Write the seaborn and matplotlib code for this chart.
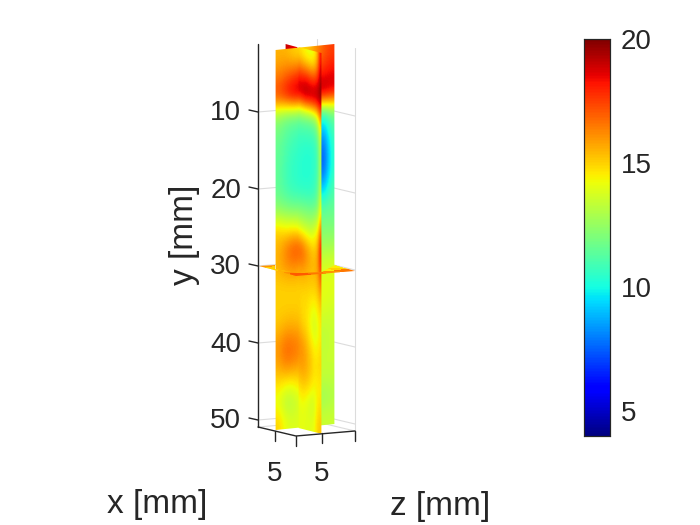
import matplotlib
matplotlib.use("Agg")
import matplotlib.pyplot as plt
import numpy as np
import seaborn as sns
from matplotlib.patches import Polygon
from matplotlib.transforms import Affine2D

# slices through the volume, left to right / top to bottom
plane_a = [
    [15.5, 15.5, 15.0, 14.8, 15.0, 16.0, 17.0, 17.5],
    [16.5, 17.0, 17.5, 18.0, 18.0, 18.0, 18.0, 18.5],
    [17.5, 18.5, 19.3, 19.5, 19.5, 19.8, 19.8, 19.0],
    [12.5, 12.0, 12.0, 12.0, 11.5, 11.0, 11.0, 12.0],
    [11.8, 11.3, 11.0, 10.8, 10.0, 9.5, 8.5, 11.0],
    [11.5, 11.0, 10.6, 10.5, 9.5, 8.5, 7.0, 10.5],
    [11.5, 10.8, 10.5, 10.4, 9.5, 8.5, 7.0, 10.5],
    [11.5, 11.0, 10.6, 10.5, 10.0, 9.5, 8.8, 11.0],
    [12.5, 12.2, 12.0, 12.0, 11.5, 11.3, 11.3, 11.5],
    [15.0, 14.5, 14.5, 14.0, 13.0, 12.0, 12.0, 12.0],
    [15.5, 16.5, 17.3, 17.3, 15.0, 12.7, 12.7, 12.7],
    [15.5, 16.0, 16.2, 16.0, 15.0, 13.7, 13.7, 13.8],
    [15.0, 15.0, 15.0, 15.0, 14.5, 14.0, 14.0, 14.0],
    [15.0, 15.0, 15.0, 15.0, 14.5, 14.0, 14.0, 13.8],
    [15.2, 15.5, 15.5, 15.3, 14.5, 13.5, 13.5, 13.5],
    [16.0, 16.8, 16.6, 16.3, 15.0, 13.2, 13.2, 13.5],
    [15.8, 16.6, 16.3, 16.0, 15.0, 13.5, 13.5, 13.5],
    [14.8, 14.5, 14.5, 15.0, 14.0, 13.3, 13.3, 13.3],
    [14.0, 13.0, 13.2, 14.0, 13.5, 12.6, 12.6, 13.0],
    [15.0, 14.0, 13.8, 14.0, 14.0, 13.5, 13.5, 13.5],
]
plane_b_front = [
    [14.8, 14.5, 14.2, 14.0, 14.0, 14.3, 15.5, 18.5],
    [18.0, 18.0, 18.0, 17.8, 17.5, 17.5, 18.0, 19.5],
    [19.5, 19.7, 20.0, 20.0, 20.0, 20.0, 20.0, 20.0],
    [12.0, 12.0, 12.0, 12.0, 12.2, 12.5, 13.5, 16.0],
    [10.8, 10.8, 10.8, 10.8, 10.8, 11.0, 11.5, 13.5],
    [10.5, 10.4, 10.3, 10.3, 10.3, 10.5, 11.0, 13.0],
    [10.4, 10.3, 10.3, 10.3, 10.4, 10.6, 11.0, 13.0],
    [10.5, 10.5, 10.5, 10.5, 10.6, 10.8, 11.5, 13.2],
    [12.0, 12.0, 12.0, 12.0, 12.0, 12.2, 12.5, 14.5],
    [14.0, 13.8, 13.6, 13.5, 13.5, 14.0, 14.5, 17.0],
    [17.3, 17.0, 16.5, 16.0, 15.5, 15.3, 15.8, 18.3],
    [16.0, 16.0, 15.8, 15.6, 15.5, 15.5, 15.8, 17.5],
    [15.0, 15.0, 15.0, 15.0, 15.0, 15.0, 15.2, 16.0],
    [15.0, 14.8, 14.8, 14.6, 14.3, 14.2, 14.5, 15.0],
    [15.3, 15.0, 14.8, 14.5, 14.0, 13.6, 14.0, 14.5],
    [16.3, 16.0, 15.7, 15.2, 14.8, 14.4, 14.4, 14.8],
    [16.0, 16.0, 15.8, 15.5, 15.2, 14.8, 14.8, 15.0],
    [15.0, 15.2, 15.2, 15.0, 14.7, 14.4, 14.5, 14.5],
    [14.0, 14.2, 14.0, 13.8, 13.5, 13.8, 14.5, 14.8],
    [14.0, 14.0, 14.0, 14.0, 14.0, 14.2, 15.0, 15.2],
]
plane_b_back = [
    [19.0, 18.5],
    [18.5, 17.5],
]
plate = [
    [15.0, 14.5, 14.5, 14.5, 15.0, 16.5],
    [15.0, 14.5, 14.5, 14.5, 14.5, 16.0],
    [15.0, 14.5, 14.5, 14.5, 15.0, 16.5],
    [16.0, 15.0, 15.0, 15.5, 16.0, 17.0],
]
y_ticks = [10, 20, 30, 40, 50]
cbar_ticks = [5, 10, 15, 20]
vmin, vmax = 4, 20
text_color = "#262626"

sns.set_theme(style="white")
plt.rcParams["font.family"] = ["Liberation Sans", "DejaVu Sans"]

fig = plt.figure(figsize=(7, 5.25), dpi=100)
ax = fig.add_axes([0, 0, 1, 1])
cax = fig.add_axes([584 / 700, 1 - 436 / 525, 26 / 700, 397 / 525])


def corners_to(top_left, top_right, bottom_left):
    # unit square -> parallelogram in pixel coordinates
    return Affine2D.from_values(
        top_right[0] - top_left[0],
        top_right[1] - top_left[1],
        bottom_left[0] - top_left[0],
        bottom_left[1] - top_left[1],
        top_left[0],
        top_left[1],
    )


def draw_plane(values, top_left, top_right, bottom_left, zorder):
    to_px = corners_to(top_left, top_right, bottom_left)
    # clip just inside the corners, the resampled image edge has stray colours
    inset = [(0.6, 1.0), (-0.6, 1.0), (-0.6, -1.0), (0.6, -1.0)]
    edge = to_px.transform([(0, 0), (1, 0), (1, 1), (0, 1)]) + inset
    ax.imshow(
        values,
        cmap="jet",
        vmin=vmin,
        vmax=vmax,
        extent=(0, 1, 1, 0),
        aspect="auto",
        interpolation="bicubic",
        interpolation_stage="data",
        transform=to_px + ax.transData,
        zorder=zorder,
        clip_path=Polygon(edge, transform=ax.transData),
    )


def y_px(v):
    return 35 + 7.7 * v


# horizontal slice, also gives the colorbar
sns.heatmap(
    plate, ax=ax, cbar_ax=cax, cmap="jet", vmin=vmin, vmax=vmax,
    xticklabels=False, yticklabels=False,
)
mesh = ax.collections[0]
n_rows, n_cols = np.shape(plate)
mesh.set_transform(
    Affine2D().scale(1 / n_cols, 1 / n_rows)
    + corners_to((318, 261), (355, 271), (259, 266))
    + ax.transData
)
mesh.set_zorder(5)
mesh.set_clip_path(
    Polygon(
        [(259, 266), (275, 265), (275, 269), (297, 272.5), (322, 272),
         (335, 265), (355, 271), (296, 276)],
        transform=ax.transData,
    )
)

draw_plane(plane_b_back, (285, 43), (298, 46.2), (285, 60), 2)
draw_plane(plane_a, (275, 49), (335, 43), (275, 431), 3)
draw_plane(plane_b_front, (298, 46.2), (322, 52), (298, 429), 4)

# box, grid and ticks
grid_color = "#dcdcdc"
for v in y_ticks:
    y = y_px(v)
    ax.plot([258, 317, 355], [y, y - 5, y + 4], color=grid_color, lw=0.8, zorder=1)
    ax.plot([249, 258], [y - 2, y], color=text_color, lw=1, zorder=6)
    ax.text(241, y + 1.5, str(v), ha="right", va="center", fontsize=20, color=text_color)
ax.plot([317, 317], [39, 422], color=grid_color, lw=0.8, zorder=1)
ax.plot([355, 355], [48, 431], color=grid_color, lw=0.8, zorder=1)
ax.plot([258, 317, 355], [427, 422, 431], color=grid_color, lw=0.8, zorder=1)
ax.plot([258, 258], [44, 427], color=text_color, lw=1, zorder=6)
ax.plot([258, 296, 355], [427, 436, 431], color=text_color, lw=1, zorder=6)
for x, y in [(275, 431), (296, 436), (322, 433), (355, 431)]:
    ax.plot([x, x], [y, y + 10], color=text_color, lw=1, zorder=6)

for x in [275, 322]:
    ax.text(x, 474, "5", ha="center", va="center", fontsize=20, color=text_color)
ax.text(157, 505, "x [mm]", ha="center", va="center", fontsize=24, color=text_color)
ax.text(440, 507, "z [mm]", ha="center", va="center", fontsize=24, color=text_color)
ax.text(
    185, 235, "y [mm]", rotation=90, ha="center", va="center",
    fontsize=24, color=text_color,
)

ax.set_xlim(0, 700)
ax.set_ylim(525, 0)
ax.set_axis_off()

cax.set_yticks(cbar_ticks)
cax.tick_params(
    axis="y", labelsize=20, labelcolor=text_color, length=3, width=0.6,
    direction="in", left=False, right=True, color=text_color, pad=8,
)
for spine in cax.spines.values():
    spine.set_visible(True)
    spine.set_linewidth(0.8)
    spine.set_color(text_color)

fig.savefig("out.png", dpi=100)
